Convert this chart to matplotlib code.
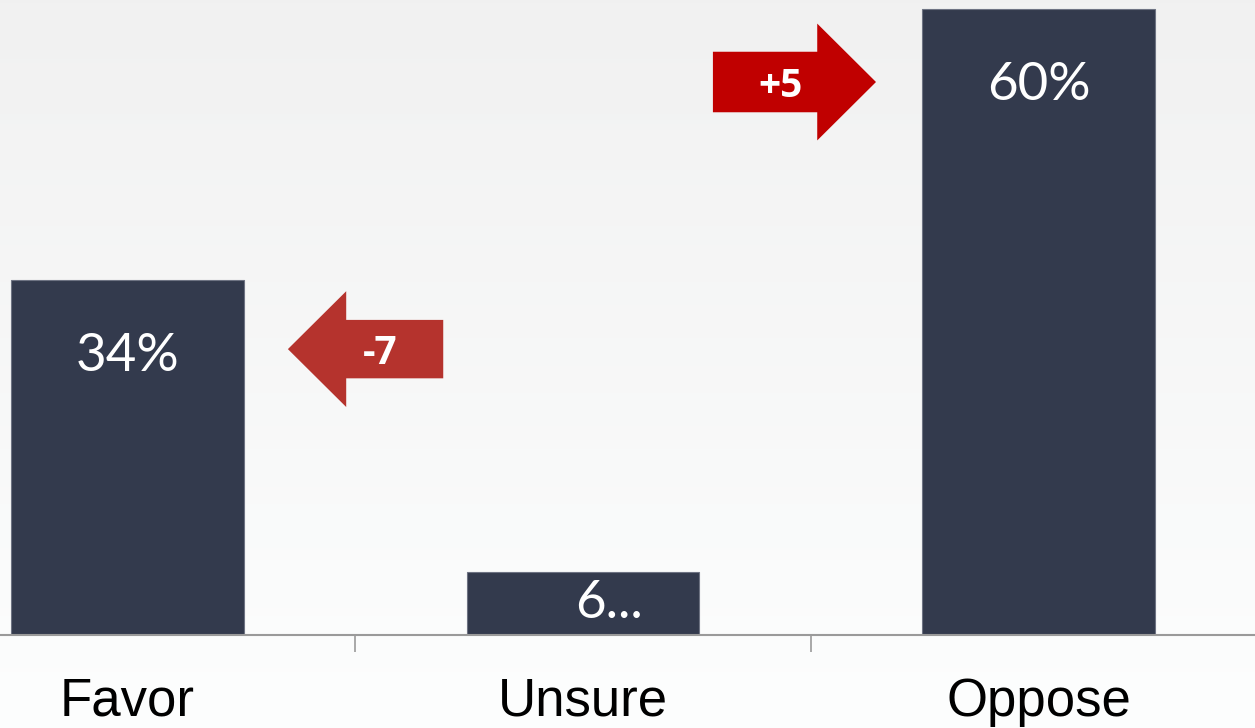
import numpy as np
import matplotlib
matplotlib.use("Agg")
import matplotlib.pyplot as plt
from matplotlib.patches import Polygon

categories = ["Favor", "Unsure", "Oppose"]
values = [34, 6, 60]
value_labels = ["34%", "6...", "60%"]
changes = ["-7", "+5"]

fig = plt.figure(figsize=(12.55, 7.28), dpi=100)

# background gradient (light grey at top, almost white at bottom)
bg = fig.add_axes([0, 0, 1, 1], zorder=0)
grad = np.linspace(0, 1, 256).reshape(-1, 1)
top = np.array([0.945, 0.945, 0.945])
bot = np.array([0.992, 0.996, 0.996])
img = top + (bot - top) * grad[:, :, None]
bg.imshow(img, aspect="auto", extent=[0, 1, 0, 1])
bg.axis("off")

ax = fig.add_axes([0, 93 / 728, 1, 635 / 728], zorder=1)
ax.patch.set_alpha(0)

x = np.arange(len(categories))
ax.bar(x, values, width=0.51, color="#333A4D", edgecolor="#6E7383", linewidth=0.8, zorder=2)

ax.set_xlim(-0.28, 2.475)
ax.set_ylim(0, 60.86)

# value labels inside the bars (the short bar's label is truncated, as in the source)
for xi, v, lab in zip(x, values, value_labels):
    y = max(v - 7.3, v / 2)
    dx = 0.057 if lab.endswith("...") else 0
    ax.text(xi + dx, y, lab, ha="center", va="center", color="white",
            fontsize=38, family="Lato", zorder=3)

# change arrows
def arrow(x0, x1, xtip, yc, body_h, head_h, color, text, tx):
    pts = [(x0, yc - body_h / 2), (x1, yc - body_h / 2), (x1, yc - head_h / 2),
           (xtip, yc), (x1, yc + head_h / 2), (x1, yc + body_h / 2), (x0, yc + body_h / 2)]
    ax.add_patch(Polygon(pts, closed=True, facecolor=color, edgecolor="none", zorder=3))
    ax.text(tx, yc, text, ha="center", va="center_baseline", color="white",
            fontsize=28, family="Open Sans", fontweight="bold", zorder=4)

arrow(0.693, 0.480, 0.352, 27.4, 5.6, 11.1, "#B5332D", changes[0], 0.554)
arrow(1.285, 1.514, 1.643, 53.0, 5.8, 11.2, "#C00000", changes[1], 1.433)

for s in ["top", "left", "right"]:
    ax.spines[s].set_visible(False)
ax.spines["bottom"].set_color("#9A9A9A")
ax.spines["bottom"].set_linewidth(1.5)
ax.set_yticks([])
ax.set_xticks(x)
ax.set_xticklabels(categories, fontsize=38, family="Liberation Sans", color="black")
ax.tick_params(axis="x", which="major", length=0, pad=30)
ax.set_xticks([0.5, 1.5], minor=True)
ax.tick_params(axis="x", which="minor", length=12, width=1.2, color="#9A9A9A", direction="out")

fig.savefig("out.png", dpi=100)
